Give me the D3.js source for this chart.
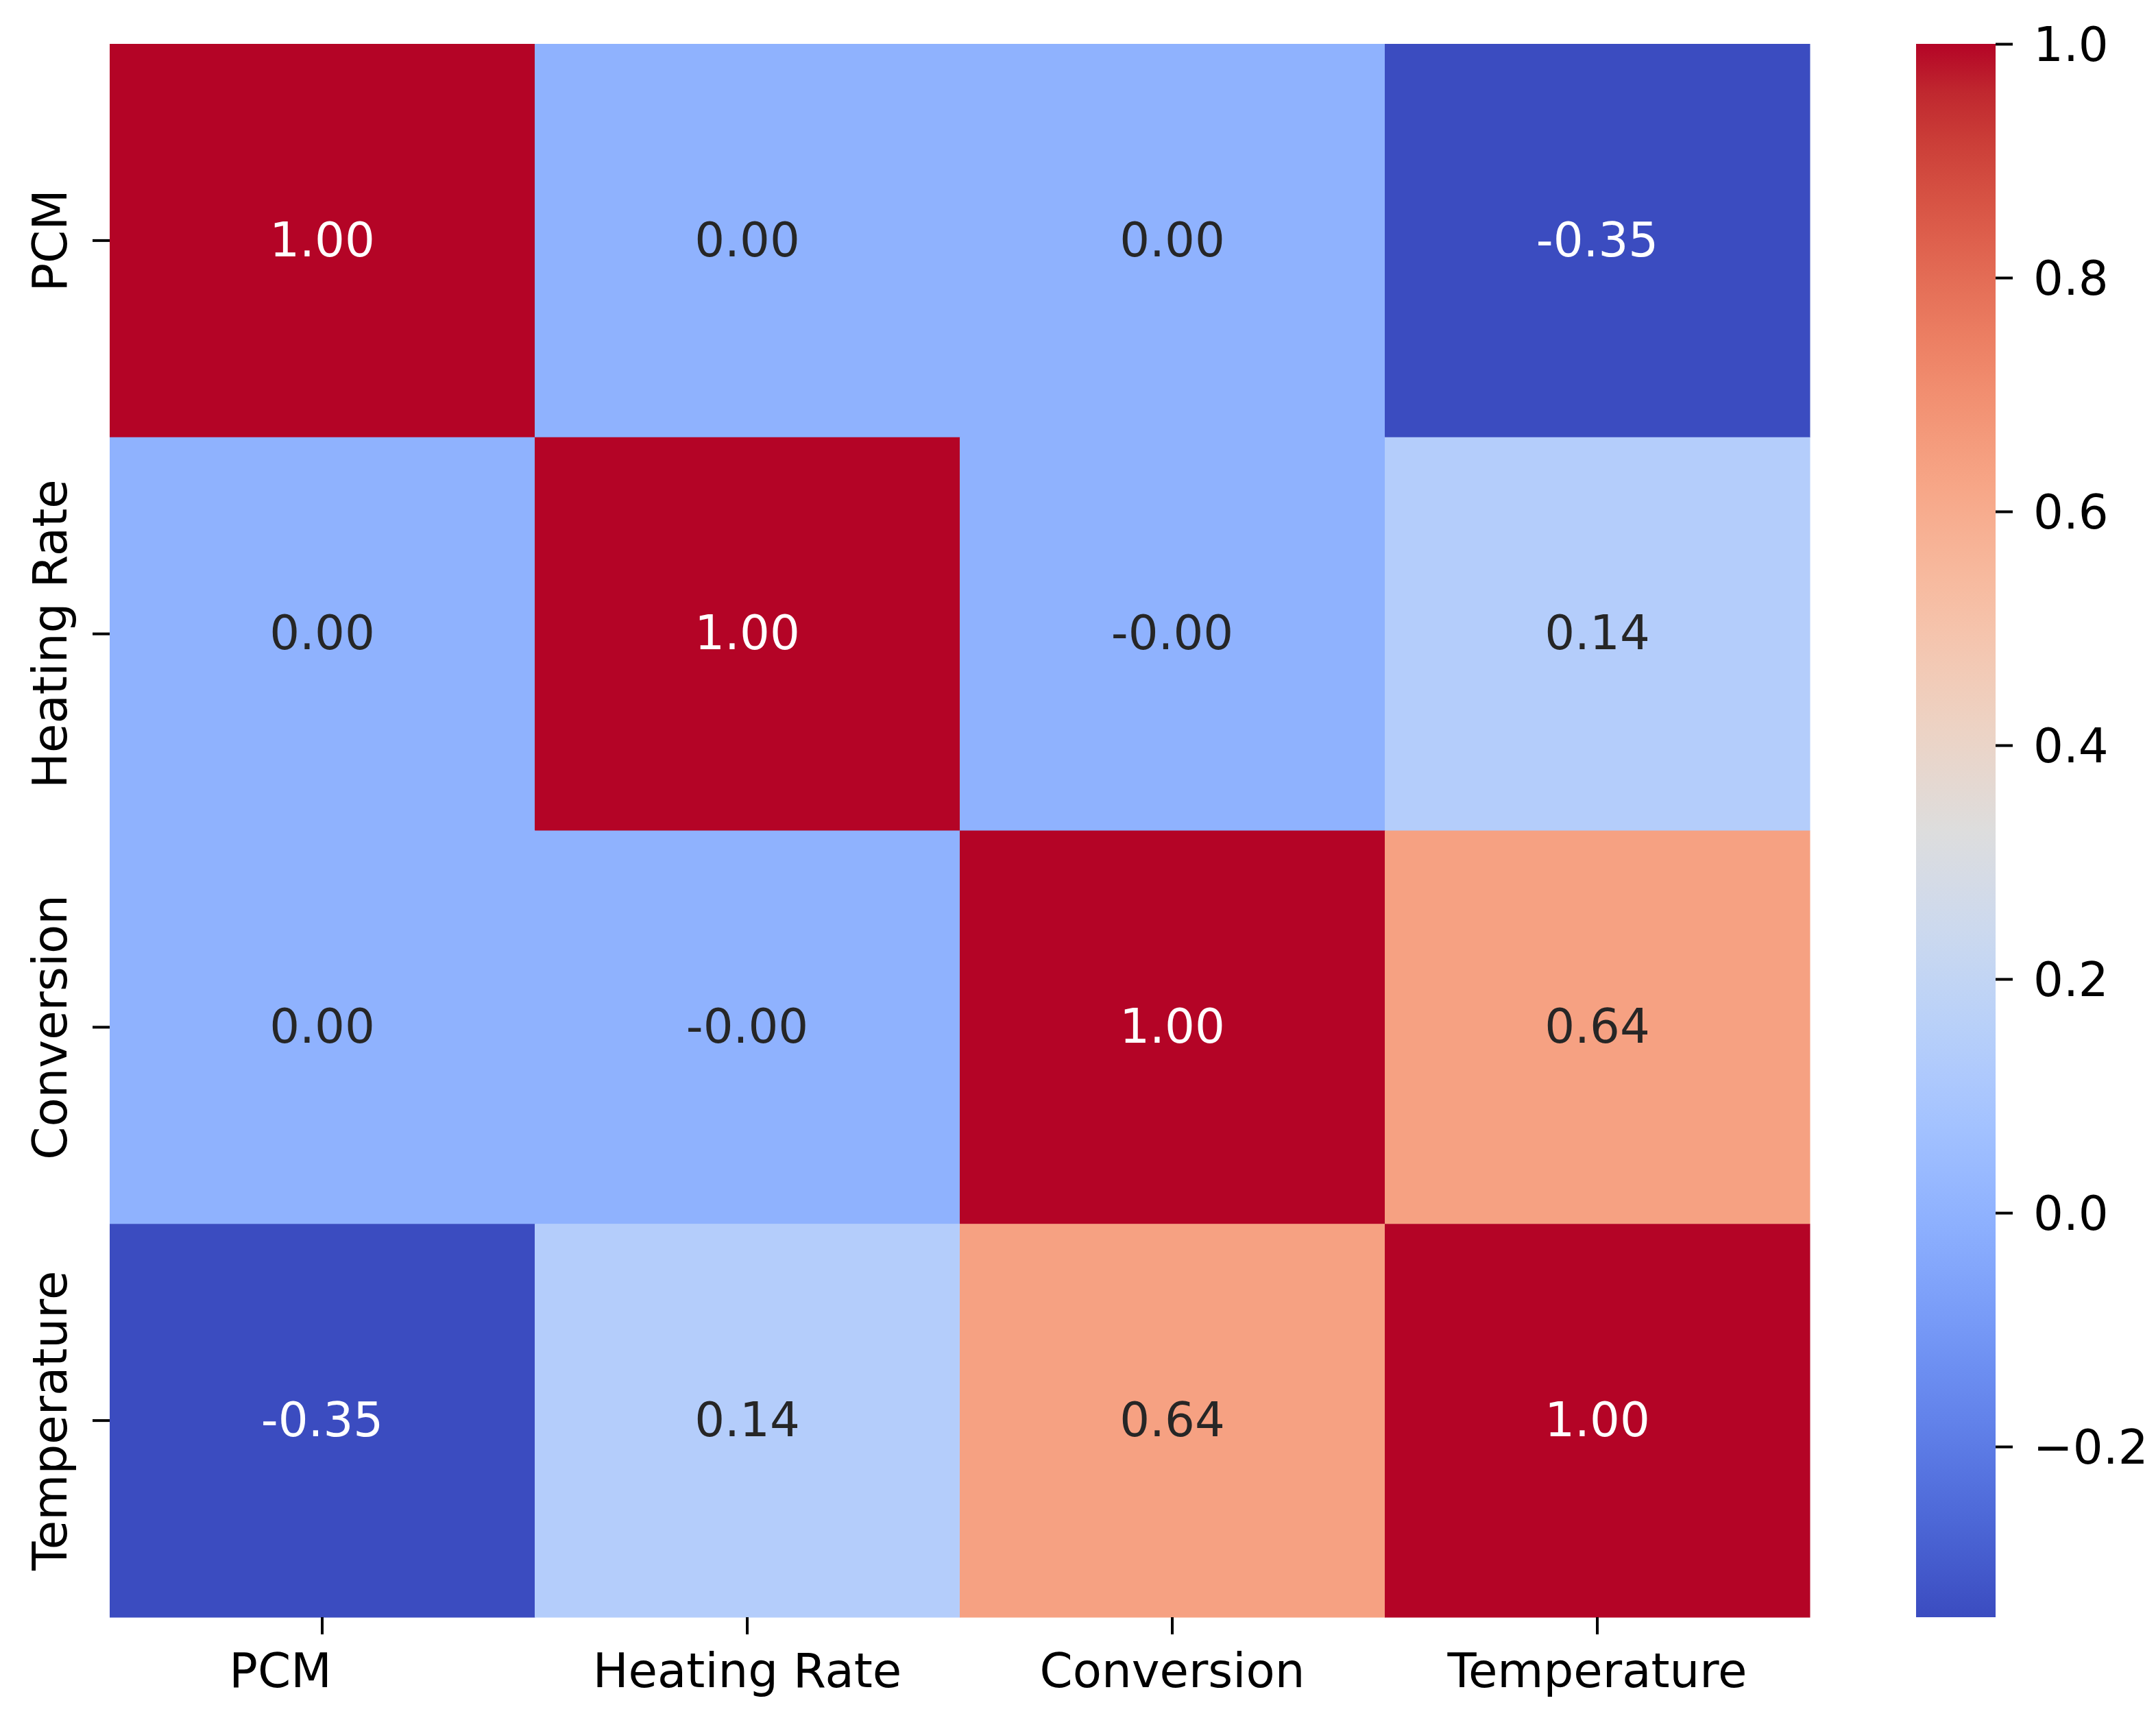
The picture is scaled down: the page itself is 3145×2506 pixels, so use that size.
<!DOCTYPE html>
<html>
<head>
<meta charset="utf-8">
<script src="https://cdn.jsdelivr.net/npm/d3@7"></script>
<style>
  body { margin: 0; background: #fff; }
  text { font-family: "DejaVu Sans", sans-serif; }
</style>
</head>
<body>
<svg id="chart" width="3145" height="2506"></svg>
<script>
// variables shown on both axes
var labels = ["PCM", "Heating Rate", "Conversion", "Temperature"];

// correlation rows
var rowPCM         = [1.00, 0.00, 0.00, -0.346];
var rowHeatingRate = [0.00, 1.00, -0.001, 0.14];
var rowConversion  = [0.00, -0.001, 1.00, 0.64];
var rowTemperature = [-0.346, 0.14, 0.64, 1.00];
var rows = [rowPCM, rowHeatingRate, rowConversion, rowTemperature];

// colorbar tick values
var cbarTicks = [-0.2, 0.0, 0.2, 0.4, 0.6, 0.8, 1.0];

// matplotlib "coolwarm" (Moreland) control colours, evenly spaced 0..1
var coolwarm = [
  "rgb(59,76,192)", "rgb(68,90,204)", "rgb(77,104,215)", "rgb(87,117,225)",
  "rgb(98,130,234)", "rgb(108,142,241)", "rgb(119,154,247)", "rgb(130,165,251)",
  "rgb(141,176,254)", "rgb(152,185,255)", "rgb(163,194,255)", "rgb(174,201,253)",
  "rgb(184,208,249)", "rgb(194,213,244)", "rgb(204,217,238)", "rgb(213,219,230)",
  "rgb(221,221,221)", "rgb(229,216,209)", "rgb(236,211,197)", "rgb(241,204,185)",
  "rgb(245,196,173)", "rgb(247,187,160)", "rgb(247,177,148)", "rgb(247,166,135)",
  "rgb(244,154,123)", "rgb(241,141,111)", "rgb(236,127,99)", "rgb(229,112,88)",
  "rgb(222,96,77)", "rgb(213,80,66)", "rgb(203,62,56)", "rgb(192,40,47)",
  "rgb(180,4,38)"
];

var margin = {top: 64, left: 160},
    width  = 2480,
    height = 2295,
    cbarX  = 2795,
    cbarW  = 116,
    fontSize = 69;

var allValues = d3.merge(rows);
var vmin = d3.min(allValues),
    vmax = d3.max(allValues);

var color = d3.scaleLinear()
    .domain(coolwarm.map(function(c, i) { return vmin + (vmax - vmin) * i / (coolwarm.length - 1); }))
    .range(coolwarm)
    .interpolate(d3.interpolateRgb)
    .clamp(true);

var x = d3.scaleBand().domain(labels).range([0, width]);
var y = d3.scaleBand().domain(labels).range([0, height]);

var svg = d3.select("#chart");
svg.append("rect").attr("width", 3145).attr("height", 2506).attr("fill", "#fff");

var g = svg.append("g")
    .attr("transform", "translate(" + margin.left + "," + margin.top + ")");

var cells = [];
rows.forEach(function(r, i) {
  r.forEach(function(v, j) { cells.push({row: labels[i], col: labels[j], value: v}); });
});

function luminance(c) {
  var rgb = d3.rgb(c);
  var lin = [rgb.r, rgb.g, rgb.b].map(function(v) {
    v = v / 255;
    return v <= 0.03928 ? v / 12.92 : Math.pow((v + 0.055) / 1.055, 2.4);
  });
  return 0.2126 * lin[0] + 0.7152 * lin[1] + 0.0722 * lin[2];
}

g.selectAll("rect.cell")
    .data(cells)
  .enter().append("rect")
    .attr("class", "cell")
    .attr("x", function(d) { return x(d.col); })
    .attr("y", function(d) { return y(d.row); })
    .attr("width", x.bandwidth() + 0.5)
    .attr("height", y.bandwidth() + 0.5)
    .attr("fill", function(d) { return color(d.value); });

g.selectAll("text.annot")
    .data(cells)
  .enter().append("text")
    .attr("class", "annot")
    .attr("x", function(d) { return x(d.col) + x.bandwidth() / 2; })
    .attr("y", function(d) { return y(d.row) + y.bandwidth() / 2; })
    .attr("dy", "0.33em")
    .attr("text-anchor", "middle")
    .attr("font-size", fontSize)
    .attr("fill", function(d) { return luminance(color(d.value)) < 0.408 ? "#ffffff" : "#262626"; })
    .text(function(d) { return d.value.toFixed(2); });

// x axis
var xAxis = g.append("g")
    .attr("transform", "translate(0," + height + ")")
    .call(d3.axisBottom(x).tickSize(25).tickPadding(28));
xAxis.select(".domain").remove();
xAxis.selectAll("line").attr("stroke", "#000").attr("stroke-width", 4);
xAxis.selectAll("text").attr("font-size", fontSize).attr("fill", "#000")
    .attr("font-family", "DejaVu Sans")
    // the first label sits a little left of its tick in the original
    .attr("dx", function(d, i) { return i === 0 ? -61 : 0; });

// y axis, labels rotated
var yAxis = g.append("g")
    .call(d3.axisLeft(y).tickSize(25));
yAxis.select(".domain").remove();
yAxis.selectAll("line").attr("stroke", "#000").attr("stroke-width", 4);
yAxis.selectAll("text")
    .attr("x", null).attr("dy", null)
    .attr("text-anchor", "middle")
    .attr("transform", "translate(-63,0) rotate(-90)")
    .attr("font-size", fontSize).attr("fill", "#000")
    .attr("font-family", "DejaVu Sans");

// colorbar
var cy = d3.scaleLinear().domain([vmin, vmax]).range([margin.top + height, margin.top]);

var grad = svg.append("defs").append("linearGradient")
    .attr("id", "cbar")
    .attr("x1", 0).attr("y1", 1).attr("x2", 0).attr("y2", 0);
grad.selectAll("stop")
    .data(color.domain())
  .enter().append("stop")
    .attr("offset", function(d) { return (d - vmin) / (vmax - vmin); })
    .attr("stop-color", function(d) { return color(d); });

svg.append("rect")
    .attr("x", cbarX)
    .attr("y", cy(vmax))
    .attr("width", cbarW)
    .attr("height", cy(vmin) - cy(vmax))
    .attr("fill", "url(#cbar)");

var cAxis = svg.append("g")
    .attr("transform", "translate(" + (cbarX + cbarW) + ",0)")
    .call(d3.axisRight(cy).tickValues(cbarTicks).tickFormat(d3.format(".1f")).tickSize(25).tickPadding(30));
cAxis.select(".domain").remove();
cAxis.selectAll("line").attr("stroke", "#000").attr("stroke-width", 4);
cAxis.selectAll("text").attr("font-size", fontSize).attr("fill", "#000")
    .attr("dy", "0.35em")
    .attr("font-family", "DejaVu Sans");
</script>
</body>
</html>
